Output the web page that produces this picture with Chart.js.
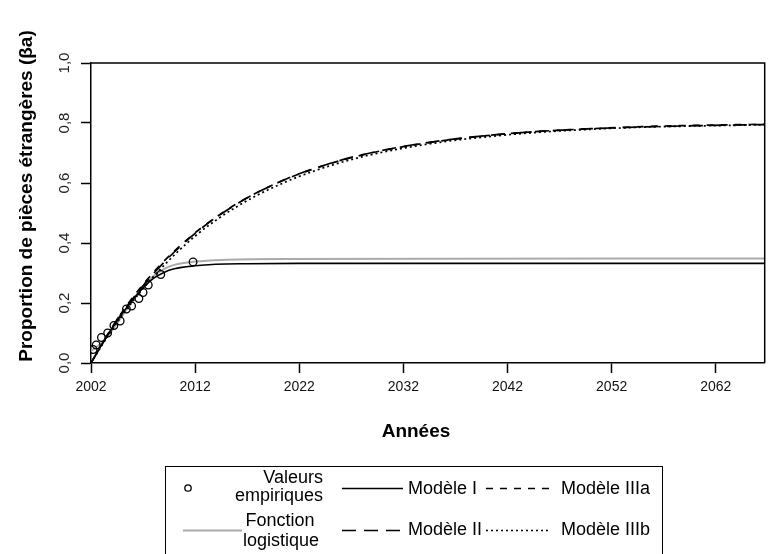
<!DOCTYPE html>
<html>
<head>
<meta charset="utf-8">
<script src="https://cdn.jsdelivr.net/npm/chart.js@4/dist/chart.umd.min.js"></script>
<style>
html, body { margin: 0; padding: 0; background: #fff; }
#wrap { position: relative; width: 770px; height: 554px; }
</style>
</head>
<body>
<div id="wrap"><canvas id="chart-beta"></canvas></div>
<script>
// ── Données ──────────────────────────────────────────────────
var xTicks = [2002, 2012, 2022, 2032, 2042, 2052, 2062];
var yTicks = [0, 0.2, 0.4, 0.6, 0.8, 1.0];

// Valeurs empiriques (cercles)
var anneesEmp  = [2002.2, 2002.5, 2003.0, 2003.6, 2004.2, 2004.8, 2005.4, 2005.9, 2006.6, 2007.0, 2007.5, 2008.7, 2011.8];
var valeursEmp = [0.045, 0.060, 0.085, 0.100, 0.125, 0.140, 0.180, 0.190, 0.215, 0.235, 0.260, 0.295, 0.337];

// Fonction logistique (gris)
var anneesLog  = [2002, 2003, 2004, 2005, 2006, 2007, 2008, 2009, 2010, 2012, 2015, 2020, 2067];
var valeursLog = [0.040, 0.067, 0.107, 0.157, 0.209, 0.255, 0.290, 0.313, 0.327, 0.338, 0.344, 0.347, 0.348];

// Modèle I (trait plein, plateau bas)
var anneesM1  = [2002, 2003, 2004, 2005, 2006, 2007, 2008, 2009, 2010, 2012, 2014, 2017, 2022, 2067];
var valeursM1 = [0, 0.060, 0.115, 0.165, 0.210, 0.250, 0.282, 0.302, 0.314, 0.324, 0.329, 0.331, 0.332, 0.332];

// Modèles II, IIIa, IIIb (plateau à 0,8)
var anneesM = [2002, 2004, 2006, 2008, 2010, 2012, 2014, 2016, 2018, 2020, 2022, 2025, 2028, 2032, 2036, 2040, 2045, 2050, 2055, 2060, 2067];
var valeursM2   = [0, 0.115, 0.214, 0.298, 0.370, 0.432, 0.485, 0.530, 0.569, 0.602, 0.631, 0.666, 0.694, 0.722, 0.743, 0.758, 0.772, 0.781, 0.787, 0.791, 0.795];
var valeursM3a  = [0, 0.118, 0.218, 0.302, 0.373, 0.434, 0.486, 0.531, 0.569, 0.602, 0.630, 0.665, 0.693, 0.721, 0.742, 0.758, 0.772, 0.781, 0.788, 0.792, 0.796];
var valeursM3b  = [0, 0.110, 0.205, 0.288, 0.360, 0.423, 0.476, 0.521, 0.560, 0.593, 0.622, 0.658, 0.687, 0.716, 0.738, 0.754, 0.769, 0.779, 0.786, 0.790, 0.794];

function _pts(xs, ys) { return xs.map(function(x, i) { return { x: x, y: ys[i] }; }); }

var FONT_SANS = "'Liberation Sans', Arial, sans-serif";

// ── Cadre, titres et légende (dessinés à la main) ─────────────
var cadrePlugin = {
    id: 'cadre',
    afterDraw: function(chart) {
        var ctx = chart.ctx, a = chart.chartArea;
        ctx.save();
        ctx.strokeStyle = '#000';
        ctx.lineWidth = 1.5;
        ctx.beginPath();
        ctx.moveTo(a.left, a.top); ctx.lineTo(a.right, a.top); ctx.lineTo(a.right, a.bottom);
        ctx.stroke();

        // titre axe X
        ctx.fillStyle = '#000';
        ctx.font = 'bold 19px ' + FONT_SANS;
        ctx.textAlign = 'center';
        ctx.textBaseline = 'middle';
        ctx.fillText('Années', 416, 432);

        // titre axe Y
        ctx.translate(27, 196);
        ctx.rotate(-Math.PI / 2);
        ctx.fillText('Proportion de pièces étrangères (βa)', 0, 0);
        ctx.restore();

        // légende
        ctx.save();
        ctx.strokeStyle = '#000';
        ctx.lineWidth = 1;
        ctx.strokeRect(165.5, 466.5, 497, 100);

        ctx.font = '18px ' + FONT_SANS;
        ctx.fillStyle = '#000';
        ctx.textBaseline = 'middle';
        ctx.textAlign = 'right';
        ctx.fillText('Valeurs', 323, 478);
        ctx.fillText('empiriques', 323, 496);
        ctx.textAlign = 'center';
        ctx.fillText('Fonction', 280, 521);
        ctx.fillText('logistique', 281, 541);
        ctx.textAlign = 'left';
        ctx.fillText('Modèle I', 408, 489);
        ctx.fillText('Modèle II', 408, 530);
        ctx.fillText('Modèle IIIa', 561, 489);
        ctx.fillText('Modèle IIIb', 561, 530);

        function seg(x0, x1, y, dash, color, w) {
            ctx.save();
            ctx.strokeStyle = color; ctx.lineWidth = w; ctx.setLineDash(dash);
            ctx.beginPath(); ctx.moveTo(x0, y); ctx.lineTo(x1, y); ctx.stroke();
            ctx.restore();
        }
        seg(342, 403, 488.5, [], '#000', 1.5);
        seg(183, 242, 530.5, [], '#aaaaaa', 2);
        seg(342, 403, 530.5, [14, 8], '#000', 1.5);
        seg(486, 550, 488.5, [7, 7], '#000', 1.5);
        seg(486, 550, 530.5, [2, 3], '#000', 1.5);

        ctx.lineWidth = 1.3;
        ctx.beginPath(); ctx.arc(188, 488, 3.2, 0, Math.PI * 2); ctx.stroke();
        ctx.restore();
    }
};

function lineDs(label, xs, ys, color, dash, width) {
    return {
        label: label,
        data: _pts(xs, ys),
        showLine: true,
        borderColor: color,
        borderWidth: width,
        borderDash: dash,
        pointRadius: 0,
        cubicInterpolationMode: 'monotone',
        fill: false
    };
}

var canvas = document.getElementById('chart-beta');
canvas.width = 770; canvas.height = 554;

window._betaChart = new Chart(canvas, {
    type: 'scatter',
    data: {
        datasets: [
            {
                label: 'Valeurs empiriques',
                data: _pts(anneesEmp, valeursEmp),
                pointStyle: 'circle',
                pointRadius: 3.8,
                pointBorderWidth: 1.3,
                pointBorderColor: '#000',
                pointBackgroundColor: 'rgba(0,0,0,0)'
            },
            lineDs('Modèle I', anneesM1, valeursM1, '#000', [], 1.6),
            lineDs('Modèle II', anneesM, valeursM2, '#000', [14, 8], 1.7),
            lineDs('Modèle IIIa', anneesM, valeursM3a, '#000', [7, 7], 1.7),
            lineDs('Modèle IIIb', anneesM, valeursM3b, '#000', [2, 3], 1.7),
            lineDs('Fonction logistique', anneesLog, valeursLog, '#aaaaaa', [], 2)
        ]
    },
    options: {
        responsive: false,
        animation: false,
        layout: { padding: { top: 63, left: 0, right: 0, bottom: 0 } },
        plugins: { legend: { display: false }, tooltip: { enabled: false } },
        scales: {
            x: {
                type: 'linear',
                min: 2002,
                max: 2066.7,
                afterBuildTicks: function(s) { s.ticks = xTicks.map(function(v) { return { value: v }; }); },
                afterFit: function(s) { s.height = 191; },
                ticks: {
                    font: { family: FONT_SANS, size: 14 },
                    color: '#111',
                    padding: 6,
                    maxRotation: 0,
                    callback: function(v) { return String(v); }
                },
                grid: { drawOnChartArea: false, drawTicks: true, tickLength: 10, tickColor: '#000', tickWidth: 1.5 },
                border: { display: true, color: '#000', width: 1.5 }
            },
            y: {
                type: 'linear',
                min: 0,
                max: 1,
                afterBuildTicks: function(s) { s.ticks = yTicks.map(function(v) { return { value: v }; }); },
                afterFit: function(s) { s.width = 91; },
                ticks: {
                    font: { family: FONT_SANS, size: 15 },
                    color: '#222',
                    padding: 6,
                    minRotation: 90,
                    maxRotation: 90,
                    crossAlign: 'center',
                    callback: function(v) { return v.toFixed(1).replace('.', ','); }
                },
                grid: { drawOnChartArea: false, drawTicks: true, tickLength: 10, tickColor: '#000', tickWidth: 1.5 },
                border: { display: true, color: '#000', width: 1.5 }
            }
        }
    },
    plugins: [cadrePlugin]
});
</script>
</body>
</html>
